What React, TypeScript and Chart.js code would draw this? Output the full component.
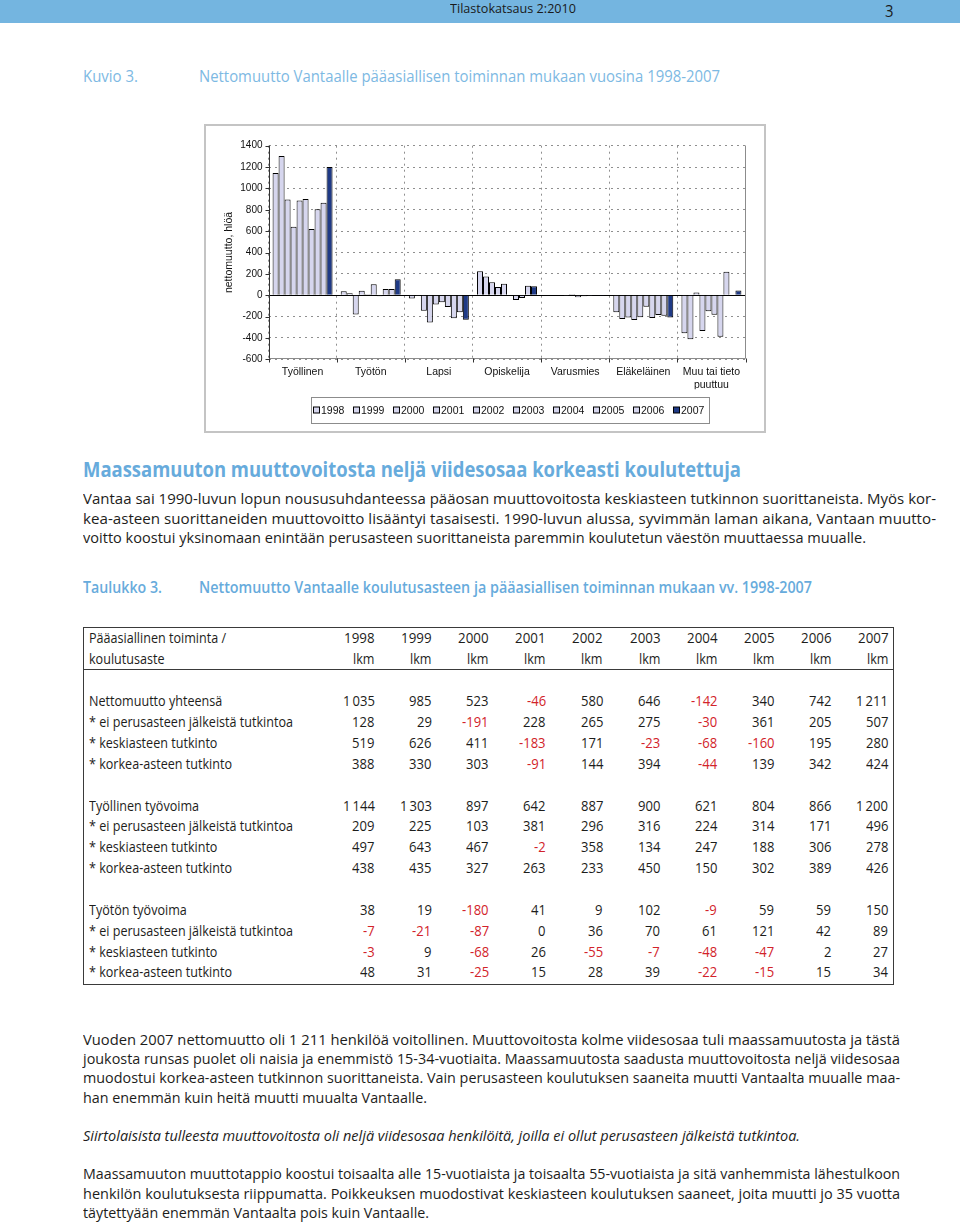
import React, { useEffect, useRef } from 'react';
import { Chart, registerables } from 'chart.js';

Chart.register(...registerables);

// ---------- chart data ----------
const categories: (string | string[])[] = ['Työllinen', 'Työtön', 'Lapsi', 'Opiskelija', 'Varusmies', 'Eläkeläinen', ['Muu tai tieto', 'puuttuu']];
const years = ['1998', '1999', '2000', '2001', '2002', '2003', '2004', '2005', '2006', '2007'];
const tyollinen = [1144, 1303, 897, 642, 887, 900, 621, 804, 866, 1200];
const tyoton = [38, 19, -180, 41, 9, 102, -9, 59, 59, 150];
const lapsi = [-30, -8, -145, -255, -88, -65, -110, -215, -160, -230];
const opiskelija = [225, 175, 122, 78, 108, 0, -45, -25, 88, 85];
const varusmies = [-4, -6, -3, -2, 10, -18, -10, -8, -3, -2];
const elakelainen = [-160, -223, -208, -232, -207, -107, -214, -185, -193, -209];
const muu = [-355, -412, 25, -334, -150, -183, -390, 220, 0, 45];
const categorySeries = [tyollinen, tyoton, lapsi, opiskelija, varusmies, elakelainen, muu];
const yTitle = 'nettomuutto, hlöä';

// ---------- table data ----------
const tableHead1 = 'Pääasiallinen toiminta /';
const tableHead2 = 'koulutusaste';
const tableUnit = 'lkm';
const rowLabels = [
  'Nettomuutto yhteensä', '* ei perusasteen jälkeistä tutkintoa', '* keskiasteen tutkinto', '* korkea-asteen tutkinto',
  'Työllinen työvoima', '* ei perusasteen jälkeistä tutkintoa', '* keskiasteen tutkinto', '* korkea-asteen tutkinto',
  'Työtön työvoima', '* ei perusasteen jälkeistä tutkintoa', '* keskiasteen tutkinto', '* korkea-asteen tutkinto',
];
const netTotal = [1035, 985, 523, -46, 580, 646, -142, 340, 742, 1211];
const netBasic = [128, 29, -191, 228, 265, 275, -30, 361, 205, 507];
const netSecondary = [519, 626, 411, -183, 171, -23, -68, -160, 195, 280];
const netTertiary = [388, 330, 303, -91, 144, 394, -44, 139, 342, 424];
const empTotal = [1144, 1303, 897, 642, 887, 900, 621, 804, 866, 1200];
const empBasic = [209, 225, 103, 381, 296, 316, 224, 314, 171, 496];
const empSecondary = [497, 643, 467, -2, 358, 134, 247, 188, 306, 278];
const empTertiary = [438, 435, 327, 263, 233, 450, 150, 302, 389, 426];
const unTotal = [38, 19, -180, 41, 9, 102, -9, 59, 59, 150];
const unBasic = [-7, -21, -87, 0, 36, 70, 61, 121, 42, 89];
const unSecondary = [-3, 9, -68, 26, -55, -7, -48, -47, 2, 27];
const unTertiary = [48, 31, -25, 15, 28, 39, -22, -15, 15, 34];
const tableRows = [netTotal, netBasic, netSecondary, netTertiary, empTotal, empBasic, empSecondary, empTertiary, unTotal, unBasic, unSecondary, unTertiary];

// ---------- texts ----------
const headerText = 'Tilastokatsaus 2:2010';
const pageNo = '3';
const figLabel = 'Kuvio 3.';
const figTitle = 'Nettomuutto Vantaalle pääasiallisen toiminnan mukaan vuosina 1998-2007';
const heading = 'Maassamuuton muuttovoitosta neljä viidesosaa korkeasti koulutettuja';
const para1 = [
  'Vantaa sai 1990-luvun lopun noususuhdanteessa pääosan muuttovoitosta keskiasteen tutkinnon suorittaneista. Myös kor-',
  'kea-asteen suorittaneiden muuttovoitto lisääntyi tasaisesti. 1990-luvun alussa, syvimmän laman aikana, Vantaan muutto-',
  'voitto koostui yksinomaan enintään perusasteen suorittaneista paremmin koulutetun väestön muuttaessa muualle.',
];
const tabLabel = 'Taulukko 3.';
const tabTitle = 'Nettomuutto Vantaalle koulutusasteen ja pääasiallisen toiminnan mukaan vv. 1998-2007';
const para2 = [
  'Vuoden 2007 nettomuutto oli 1 211 henkilöä voitollinen. Muuttovoitosta kolme viidesosaa tuli maassamuutosta ja tästä',
  'joukosta runsas puolet oli naisia ja enemmistö 15-34-vuotiaita. Maassamuutosta saadusta muuttovoitosta neljä viidesosaa',
  'muodostui korkea-asteen tutkinnon suorittaneista. Vain perusasteen koulutuksen saaneita muutti Vantaalta muualle maa-',
  'han enemmän kuin heitä muutti muualta Vantaalle.',
];
const italicLine = 'Siirtolaisista tulleesta muuttovoitosta oli neljä viidesosaa henkilöitä, joilla ei ollut perusasteen jälkeistä tutkintoa.';
const para3 = [
  'Maassamuuton muuttotappio koostui toisaalta alle 15-vuotiaista ja toisaalta 55-vuotiaista ja sitä vanhemmista lähestulkoon',
  'henkilön koulutuksesta riippumatta. Poikkeuksen muodostivat keskiasteen koulutuksen saaneet, joita muutti jo 35 vuotta',
  'täytettyään enemmän Vantaalta pois kuin Vantaalle.',
];

// ---------- helpers ----------
const BODY = "'Open Sans', sans-serif";
const CHARTFONT = "'Liberation Sans', Arial, sans-serif";
const BLUE = '#67abdc';
const BLUE_LIGHT = '#7db9e3';
const RED = '#d2232a';
const INK = '#1d1d1b';

let mctx: CanvasRenderingContext2D | null = null;
function measure(text: string, font: string): number {
  if (!mctx) mctx = document.createElement('canvas').getContext('2d');
  mctx!.font = font;
  return mctx!.measureText(text).width;
}
function fmt(n: number): string {
  const s = Math.abs(n).toString().replace(/\B(?=(\d{3})+(?!\d))/g, '\u2009');
  return (n < 0 ? '-' : '') + s;
}

type TP = {
  x: number; y: number; text: string; size: number; w?: number; sx?: number; color?: string;
  weight?: number; italic?: boolean; align?: 'left' | 'right' | 'center'; family?: string;
};
function Txt({ x, y, text, size, w, sx, color = INK, weight = 400, italic = false, align = 'left', family = BODY }: TP) {
  const font = `${italic ? 'italic ' : ''}${weight} ${size}px ${family}`;
  const nat = measure(text, font) || 1;
  const s = w ? w / nat : sx ?? 1;
  const width = nat * s;
  const left = align === 'right' ? x - width : align === 'center' ? x - width / 2 : x;
  return (
    <div
      style={{
        position: 'absolute', left, top: y - size * 0.6, fontFamily: family, fontSize: size, fontWeight: weight,
        fontStyle: italic ? 'italic' : 'normal', lineHeight: `${size * 1.15}px`, color, whiteSpace: 'pre',
        transform: `scaleX(${s})`, transformOrigin: '0 0',
      }}
    >
      {text}
    </div>
  );
}

// ---------- chart ----------
const chartPlugin = {
  id: 'excelLook',
  beforeDatasetsDraw(chart: any) {
    const { ctx, chartArea: a, scales } = chart;
    const z = Math.round(scales.y.getPixelForValue(0)) + 0.5;
    ctx.save();
    ctx.strokeStyle = '#000';
    ctx.lineWidth = 1;
    ctx.beginPath();
    ctx.moveTo(a.left, z);
    ctx.lineTo(a.right, z);
    ctx.stroke();
    ctx.restore();
  },
  afterDraw(chart: any) {
    const { ctx, chartArea: a, scales } = chart;
    const L = Math.round(a.left) + 0.5;
    const R = Math.round(a.right) - 0.5;
    const B = Math.round(a.bottom) - 0.5;
    ctx.save();
    ctx.lineWidth = 1;
    ctx.strokeStyle = '#8c8c8c';
    ctx.beginPath();
    ctx.moveTo(R, a.top);
    ctx.lineTo(R, B);
    ctx.lineTo(L, B);
    ctx.stroke();
    ctx.strokeStyle = '#333';
    ctx.beginPath();
    ctx.moveTo(L, a.top);
    ctx.lineTo(L, B);
    scales.y.ticks.forEach((_t: any, i: number) => {
      const py = Math.round(scales.y.getPixelForTick(i)) + 0.5;
      ctx.moveTo(L - 4, py);
      ctx.lineTo(L, py);
    });
    const n = chart.data.labels.length;
    const cw = (a.right - a.left) / n;
    for (let i = 0; i <= n; i++) {
      const px = Math.round(a.left + i * cw) + 0.5;
      ctx.moveTo(px, B);
      ctx.lineTo(px, B + 4);
    }
    ctx.stroke();

    // legend box
    const bx = 106, by = 272, bw = 398, bh = 26;
    ctx.strokeStyle = '#8c8c8c';
    ctx.strokeRect(bx + 0.5, by + 0.5, bw, bh);
    const cy = by + bh / 2 + 0.5;
    ctx.font = `10.5px ${CHARTFONT}`;
    ctx.textBaseline = 'middle';
    ctx.textAlign = 'left';
    chart.data.datasets.forEach((ds: any, i: number) => {
      const x0 = Math.round(bx + 2.3 + i * 39.93);
      ctx.fillStyle = ds.backgroundColor;
      ctx.fillRect(x0 + 0.5, cy - 3.5, 6, 6);
      ctx.strokeStyle = '#000';
      ctx.strokeRect(x0 + 0.5, cy - 3.5, 6, 6);
      ctx.fillStyle = '#111';
      ctx.fillText(ds.label, x0 + 8, cy + 0.5);
    });
    ctx.restore();
  },
};

function BarChart() {
  const ref = useRef<HTMLCanvasElement>(null);
  useEffect(() => {
    const canvas = ref.current;
    if (!canvas) return;
    const chart = new Chart(canvas, {
      type: 'bar',
      data: {
        labels: categories as any,
        datasets: years.map((yr, i) => ({
          label: yr,
          data: categorySeries.map((s) => s[i]),
          backgroundColor: i === years.length - 1 ? '#1f3a86' : '#d6d6ee',
          borderColor: '#000',
          borderWidth: 1,
          barPercentage: 1.0,
          categoryPercentage: 0.88,
        })),
      },
      options: {
        animation: false,
        responsive: false,
        maintainAspectRatio: false,
        events: [],
        layout: { padding: { left: 0, top: 20.7, right: 19.5, bottom: 42.7 } },
        plugins: { legend: { display: false }, tooltip: { enabled: false } },
        scales: {
          x: {
            grid: { offset: true, color: '#8f8f8f', drawTicks: false, lineWidth: 1 },
            border: { display: false, dash: [2, 4] },
            ticks: { color: '#111', font: { family: CHARTFONT, size: 10.5 }, padding: 7, maxRotation: 0, autoSkip: false },
            afterFit: (s: any) => { s.height = 30; },
          },
          y: {
            min: -600,
            max: 1400,
            ticks: {
              stepSize: 200, color: '#111', font: { family: CHARTFONT, size: 10 }, padding: 6,
              callback: (v: any) => String(v),
            },
            grid: { color: '#8f8f8f', drawTicks: false, lineWidth: 1 },
            border: { display: false, dash: [2, 4] },
            title: { display: true, text: yTitle, color: '#111', font: { family: CHARTFONT, size: 10.5 }, padding: { top: 17.5, bottom: 0 } },
            afterFit: (s: any) => { s.width = 63.5; },
          },
        },
      },
      plugins: [chartPlugin],
    } as any);
    return () => chart.destroy();
  }, []);
  return (
    <canvas
      ref={ref}
      width={560}
      height={307}
      style={{ position: 'absolute', left: 205, top: 125, width: 560, height: 307 }}
    />
  );
}

// ---------- table ----------
const colRight = years.map((_, i) => 374.5 + i * 57.1);
const rowY = [0, 1, 2, 3, 5, 6, 7, 8, 10, 11, 12, 13].map((k) => 701.7 + k * 20.85);

function DataTable() {
  const TS = 14;
  const tfont = `400 ${TS}px ${BODY}`;
  const labelScale = 204 / measure('* ei perusasteen jälkeistä tutkintoa', tfont);
  const numScale = 32 / measure('1\u2009035', tfont);
  const yearScale = 30.5 / measure('1998', tfont);
  const items: React.ReactNode[] = [];
  items.push(<Txt key="h1" x={89} y={638} text={tableHead1} size={TS} sx={labelScale} />);
  items.push(<Txt key="h2" x={89} y={659} text={tableHead2} size={TS} sx={labelScale} />);
  years.forEach((yr, i) => {
    items.push(<Txt key={'y' + i} x={colRight[i]} y={638} text={yr} size={TS} sx={yearScale} align="right" />);
    items.push(<Txt key={'u' + i} x={colRight[i]} y={659} text={tableUnit} size={TS} sx={labelScale} align="right" />);
  });
  rowLabels.forEach((lab, r) => {
    items.push(<Txt key={'l' + r} x={89} y={rowY[r]} text={lab} size={TS} sx={labelScale} />);
    tableRows[r].forEach((v, i) => {
      items.push(
        <Txt key={`c${r}-${i}`} x={colRight[i]} y={rowY[r]} text={fmt(v)} size={TS} sx={numScale} align="right" color={v < 0 ? RED : INK} />
      );
    });
  });
  return (
    <>
      <div style={{ position: 'absolute', left: 83, top: 627, width: 811, height: 358, border: '1.5px solid #3a3a3a', boxSizing: 'border-box' }} />
      <div style={{ position: 'absolute', left: 83, top: 668.5, width: 811, height: 1.5, background: '#3a3a3a' }} />
      {items}
    </>
  );
}

export default function App() {
  const P = 15;
  const P2 = 15;
  const p2y = (k: number) => 1040 + k * 19.2;
  return (
    <div style={{ position: 'absolute', left: 0, top: 0, width: 960, height: 1224, background: '#fff', overflow: 'hidden' }}>
      {/* header bar */}
      <div style={{ position: 'absolute', left: 0, top: 0, width: 960, height: 23, background: '#74b5e0' }} />
      <Txt x={450} y={9} text={headerText} size={13} w={126} color="#1a1a1a" />
      <Txt x={885} y={11} text={pageNo} size={17} w={8.5} color="#1a1a1a" />

      {/* figure caption */}
      <Txt x={83} y={77} text={figLabel} size={15.5} w={55} color={BLUE_LIGHT} />
      <Txt x={199} y={77} text={figTitle} size={15.5} w={521} color={BLUE_LIGHT} />

      {/* chart with frame */}
      <BarChart />
      <div style={{ position: 'absolute', left: 204, top: 124, width: 562, height: 309, border: '2px solid #c4c4c4', boxSizing: 'border-box', pointerEvents: 'none' }} />

      {/* heading and paragraph */}
      <Txt x={83} y={470} text={heading} size={21} w={658} weight={700} color={BLUE} />
      <Txt x={83} y={499} text={para1[0]} size={P} w={853} />
      <Txt x={83} y={518.5} text={para1[1]} size={P} w={853} />
      <Txt x={83} y={538} text={para1[2]} size={P} w={783} />

      {/* table caption */}
      <Txt x={83} y={588} text={tabLabel} size={15.5} w={79} weight={600} color={BLUE} />
      <Txt x={199} y={588} text={tabTitle} size={15.5} w={613} weight={600} color={BLUE} />

      <DataTable />

      {/* lower paragraphs */}
      <Txt x={83} y={p2y(0)} text={para2[0]} size={P2} w={817} />
      <Txt x={83} y={p2y(1)} text={para2[1]} size={P2} w={817} />
      <Txt x={83} y={p2y(2)} text={para2[2]} size={P2} w={817} />
      <Txt x={83} y={p2y(3)} text={para2[3]} size={P2} w={344} />
      <Txt x={83} y={p2y(5)} text={italicLine} size={P2} w={717} italic />
      <Txt x={83} y={p2y(7)} text={para3[0]} size={P2} w={817} />
      <Txt x={83} y={p2y(8)} text={para3[1]} size={P2} w={817} />
      <Txt x={83} y={p2y(9)} text={para3[2]} size={P2} w={346} />
    </div>
  );
}
